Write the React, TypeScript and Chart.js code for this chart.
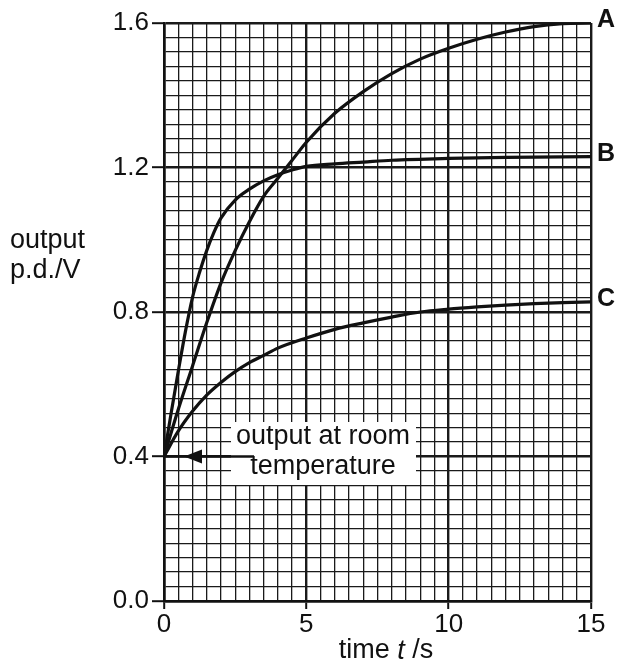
import React, { useEffect, useRef } from "react";
import { Chart, registerables } from "chart.js";

Chart.register(...registerables);

// time t / s
const tA = [0, 0.5, 1, 1.5, 2, 2.5, 3, 3.5, 4, 4.5, 5, 6, 7, 8, 9, 10, 11, 12, 13, 14, 15];
const vA = [0.4, 0.53, 0.65, 0.77, 0.88, 0.97, 1.05, 1.12, 1.17, 1.22, 1.27, 1.35, 1.41, 1.46, 1.5, 1.53, 1.555, 1.575, 1.59, 1.598, 1.6];

const tB = [0, 0.25, 0.5, 0.75, 1, 1.25, 1.5, 1.75, 2, 2.5, 3, 3.5, 4, 4.5, 5, 6, 7, 8, 10, 12, 15];
const vB = [0.4, 0.52, 0.635, 0.745, 0.84, 0.91, 0.97, 1.02, 1.06, 1.11, 1.14, 1.163, 1.18, 1.193, 1.203, 1.21, 1.215, 1.22, 1.225, 1.228, 1.23];

const tC = [0, 0.5, 1, 1.5, 2, 2.5, 3, 3.5, 4, 5, 6, 7, 8, 9, 10, 11, 12, 13, 14, 15];
const vC = [0.4, 0.47, 0.525, 0.57, 0.605, 0.635, 0.66, 0.68, 0.7, 0.728, 0.752, 0.77, 0.786, 0.8, 0.808, 0.814, 0.819, 0.823, 0.826, 0.828];

const curveLabels = ["A", "B", "C"];
const xTickLabels = ["0", "5", "10", "15"];
const yTickLabels = ["0.0", "0.4", "0.8", "1.2", "1.6"];
const yTitle = ["output", "p.d./V"];
const annotationLines = ["output at room", "temperature"];
const roomTempValue = 0.4;

const FONT = "'Liberation Sans', Arial, sans-serif";

const isMult = (v: number, s: number) => Math.abs(v / s - Math.round(v / s)) < 1e-6;

const pts = (t: number[], v: number[]) => t.map((x, i) => ({ x, y: v[i] }));

const overlay = {
  id: "overlay",
  afterDatasetsDraw(chart: any) {
    const { ctx, chartArea, scales } = chart;
    const ys = scales.y;
    ctx.save();
    // annotation white box
    ctx.fillStyle = "#ffffff";
    ctx.fillRect(231, 422, 185, 63);
    // text
    ctx.fillStyle = "#111";
    ctx.font = `27px ${FONT}`;
    ctx.textAlign = "center";
    ctx.textBaseline = "middle";
    ctx.fillText(annotationLines[0], 323, 437);
    ctx.fillText(annotationLines[1], 323, 467);
    // arrow
    const yp = ys.getPixelForValue(roomTempValue);
    ctx.strokeStyle = "#111";
    ctx.lineWidth = 2.6;
    ctx.beginPath();
    ctx.moveTo(chartArea.left, yp);
    ctx.lineTo(254, yp);
    ctx.stroke();
    ctx.beginPath();
    ctx.moveTo(184, yp);
    ctx.lineTo(202, yp - 7);
    ctx.lineTo(202, yp + 7);
    ctx.closePath();
    ctx.fill();

    // curve labels
    ctx.font = `bold 25px ${FONT}`;
    ctx.textAlign = "left";
    const ends = [vA[vA.length - 1], vB[vB.length - 1], vC[vC.length - 1]];
    curveLabels.forEach((l, i) => {
      const py = ys.getPixelForValue(ends[i]) - 3;
      ctx.fillText(l, chartArea.right + 6, py);
    });

    // y axis title
    ctx.font = `27px ${FONT}`;
    ctx.textAlign = "left";
    ctx.fillText(yTitle[0], 10, 241);
    ctx.fillText(yTitle[1], 10, 271);

    // x axis title with italic t
    const y = 651;
    const parts = [
      { s: "time ", f: `27px ${FONT}` },
      { s: "t", f: `italic 27px ${FONT}` },
      { s: " /s", f: `27px ${FONT}` },
    ];
    let total = 0;
    parts.forEach((p) => {
      ctx.font = p.f;
      total += ctx.measureText(p.s).width;
    });
    let x = 386 - total / 2;
    parts.forEach((p) => {
      ctx.font = p.f;
      ctx.fillText(p.s, x, y);
      x += ctx.measureText(p.s).width;
    });
    ctx.restore();
  },
};

export default function App() {
  const ref = useRef<HTMLCanvasElement>(null);
  useEffect(() => {
    if (!ref.current) return;
    const gridColor = "#1a1a1a";
    const chart = new Chart(ref.current, {
      type: "scatter",
      data: {
        datasets: [
          { label: curveLabels[0], data: pts(tA, vA) },
          { label: curveLabels[1], data: pts(tB, vB) },
          { label: curveLabels[2], data: pts(tC, vC) },
        ].map((d) => ({
          ...d,
          showLine: true,
          borderColor: "#111",
          borderWidth: 3.2,
          pointRadius: 0,
          cubicInterpolationMode: "monotone" as const,
          fill: false,
        })),
      },
      options: {
        responsive: false,
        animation: false,
        devicePixelRatio: 1,
        layout: { padding: { top: 23, right: 27, left: 0, bottom: 0 } },
        plugins: { legend: { display: false }, tooltip: { enabled: false } },
        scales: {
          x: {
            type: "linear",
            min: 0,
            max: 15,
            afterFit: (s: any) => {
              s.height = 65;
            },
            border: { display: true, color: "#111", width: 2.6 },
            grid: {
              color: gridColor,
              lineWidth: (c: any) => (isMult(c.tick.value, 5) ? 2.4 : 1.3),
              tickColor: (c: any) => (isMult(c.tick.value, 5) ? "#111" : "rgba(0,0,0,0)"),
              tickLength: 8,
              tickWidth: 2,
            },
            ticks: {
              stepSize: 0.5,
              autoSkip: false,
              maxRotation: 0,
              padding: 0,
              color: "#111",
              font: { family: FONT, size: 26 },
              callback: (v: any) => {
                const n = Number(v);
                if (!isMult(n, 5)) return "";
                return xTickLabels[Math.round(n / 5)];
              },
            },
          },
          y: {
            type: "linear",
            min: 0,
            max: 1.6,
            afterFit: (s: any) => {
              s.width = 164;
            },
            border: { display: true, color: "#111", width: 2.6 },
            grid: {
              color: gridColor,
              lineWidth: (c: any) => (isMult(c.tick.value, 0.4) ? 2.4 : 1.3),
              tickColor: (c: any) => (isMult(c.tick.value, 0.4) ? "#111" : "rgba(0,0,0,0)"),
              tickLength: 12,
              tickWidth: 2,
            },
            ticks: {
              stepSize: 0.04,
              autoSkip: false,
              padding: 3,
              color: "#111",
              font: { family: FONT, size: 26 },
              callback: (v: any) => {
                const n = Number(v);
                if (!isMult(n, 0.4)) return "";
                return yTickLabels[Math.round(n / 0.4)];
              },
            },
          },
        },
      },
      plugins: [overlay],
    });
    return () => chart.destroy();
  }, []);
  return (
    <div style={{ position: "fixed", left: 0, top: 0, width: 618, height: 666, background: "#fff" }}>
      <canvas ref={ref} width={618} height={666} style={{ display: "block" }} />
    </div>
  );
}
